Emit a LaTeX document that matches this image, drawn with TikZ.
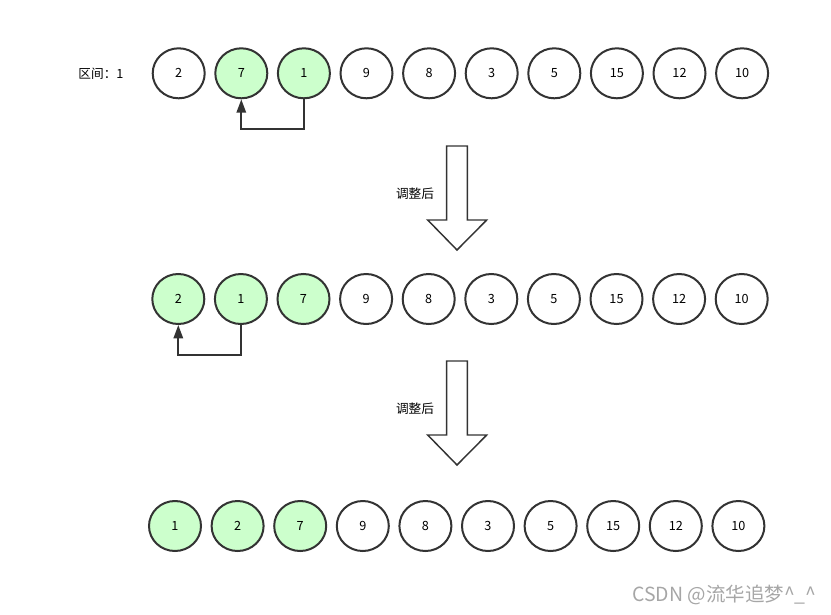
\documentclass[tikz,border=0pt]{standalone}
\usepackage{fontspec}
\newfontfamily\cjk{Noto Sans CJK SC}
\usepackage{tikz}
\usetikzlibrary{shapes.geometric, arrows.meta, positioning}
\definecolor{hitgreen}{HTML}{CCFFCC}
\definecolor{edge}{HTML}{333333}

\begin{document}
\begin{tikzpicture}[
	x=0.75pt, y=-0.75pt,
	node distance=6.45pt,
	every node/.style={font=\cjk\fontsize{9.5pt}{11pt}\selectfont},
	cell/.style={ellipse, draw=edge, line width=1.5pt, fill=white, minimum width=39pt, minimum height=37.5pt, inner sep=0pt},
	hit/.style={cell, fill=hitgreen},
	link/.style={draw=edge, line width=1.5pt, -{Triangle[length=10pt, width=7pt]}},
	bigarrow/.style={draw=edge, line width=1.1pt, fill=white, line join=miter}
]
\useasboundingbox (0,0) rectangle (831,614);

% Row before first step
\node[cell] (pre1) at (178.7,73.3) {2};
\node[hit, right=of pre1] (pre2) {7};
\node[hit, right=of pre2] (pre3) {1};
\node[cell, right=of pre3] (pre4) {9};
\node[cell, right=of pre4] (pre5) {8};
\node[cell, right=of pre5] (pre6) {3};
\node[cell, right=of pre6] (pre7) {5};
\node[cell, right=of pre7] (pre8) {15};
\node[cell, right=of pre8] (pre9) {12};
\node[cell, right=of pre9] (pre10) {10};
\node (gap) at (101,73.3) {区间：1};

% Row after first step
\node[hit] (mid1) at (178.3,299) {2};
\node[hit, right=of mid1] (mid2) {1};
\node[hit, right=of mid2] (mid3) {7};
\node[cell, right=of mid3] (mid4) {9};
\node[cell, right=of mid4] (mid5) {8};
\node[cell, right=of mid5] (mid6) {3};
\node[cell, right=of mid6] (mid7) {5};
\node[cell, right=of mid7] (mid8) {15};
\node[cell, right=of mid8] (mid9) {12};
\node[cell, right=of mid9] (mid10) {10};

% Row after second step
\node[hit] (post1) at (175,526) {1};
\node[hit, right=of post1] (post2) {2};
\node[hit, right=of post2] (post3) {7};
\node[cell, right=of post3] (post4) {9};
\node[cell, right=of post4] (post5) {8};
\node[cell, right=of post5] (post6) {3};
\node[cell, right=of post6] (post7) {5};
\node[cell, right=of post7] (post8) {15};
\node[cell, right=of post8] (post9) {12};
\node[cell, right=of post9] (post10) {10};

% Swap links
\draw[link] (pre3.south) -- ++(0,29.5) -| (pre2.south);
\draw[link] (mid2.south) -- ++(0,29.5) -| (mid1.south);

% Step arrows
\draw[bigarrow] (446.7,146) -- (467.3,146) -- (467.3,220) -- (486.7,220) -- (457,250) -- (427.7,220) -- (446.7,220) -- cycle;
\node (step1) at (415,194) {调整后};
\draw[bigarrow] (446.7,361) -- (467.3,361) -- (467.3,435) -- (486.7,435) -- (457,465) -- (427.7,435) -- (446.7,435) -- cycle;
\node (step2) at (415,409) {调整后};

% Watermark
\node[text=black!35, font=\cjk\fontsize{14.6pt}{16pt}\selectfont] (mark) at (724.5,595) {CSDN @流华追梦\textasciicircum\_\textasciicircum};

\end{tikzpicture}
\end{document}
